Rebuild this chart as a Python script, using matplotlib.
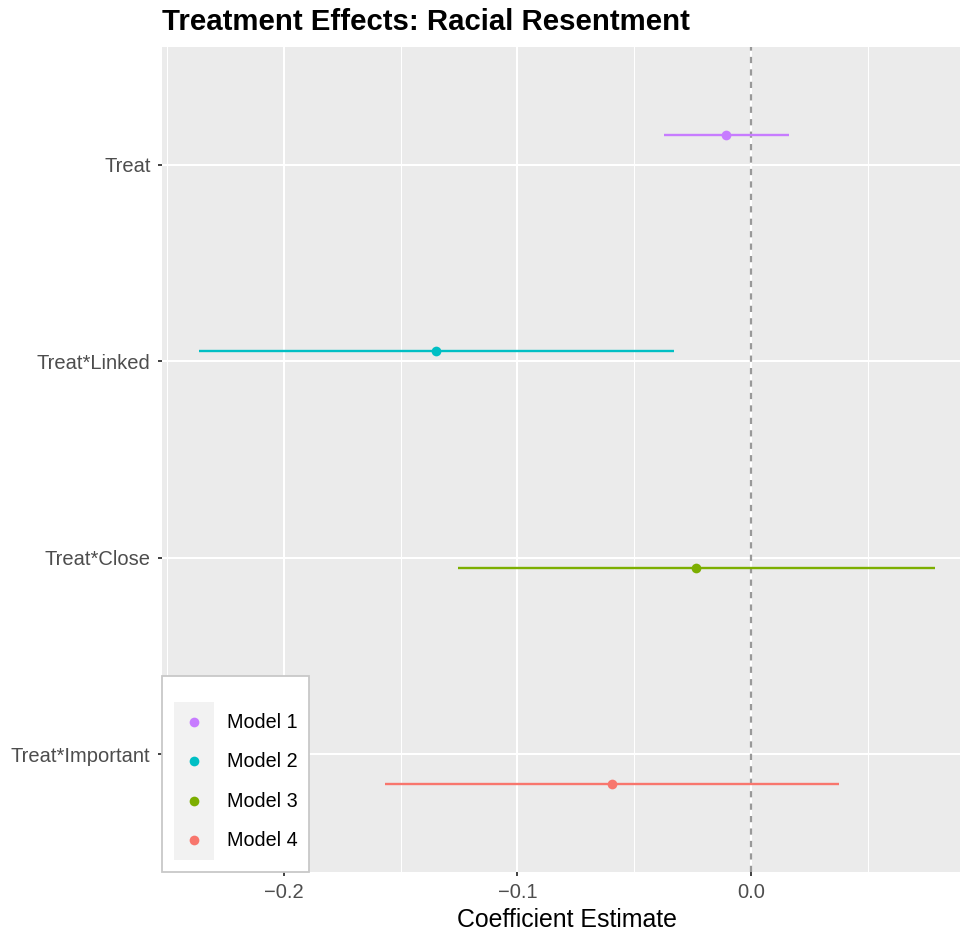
import matplotlib
matplotlib.use("Agg")
import matplotlib.pyplot as plt
from matplotlib.legend_handler import HandlerBase
from matplotlib.lines import Line2D
from matplotlib.patches import Rectangle

plt.rcParams["font.family"] = ["Liberation Sans", "DejaVu Sans"]

# --- data -------------------------------------------------------------------
terms = ["Treat", "Treat*Linked", "Treat*Close", "Treat*Important"]
models = ["Model 1", "Model 2", "Model 3", "Model 4"]
estimate = [-0.0107, -0.1349, -0.0236, -0.0595]
lower = [-0.0373, -0.2364, -0.1255, -0.1567]
upper = [0.0163, -0.0330, 0.0788, 0.0377]
colors = ["#C77CFF", "#00BFC4", "#7CAE00", "#F8766D"]
x_ticks = [-0.2, -0.1, 0.0]
x_ticklabels = ["\u22120.2", "\u22120.1", "0.0"]
x_minor = [-0.25, -0.15, -0.05, 0.05]

BG = "#EBEBEB"
TXT = "#4D4D4D"

fig = plt.figure(figsize=(9.6, 9.32), dpi=100)
# panel runs a little past the right edge (the reference is cropped there)
ax = fig.add_axes([162 / 960, 1 - 872 / 932, (972 - 162) / 960, (872 - 47) / 932])
ax.set_facecolor(BG)
for s in ax.spines.values():
    s.set_visible(False)

# category positions (top to bottom) with a dodge offset per model
n = len(terms)
ypos = {t: n - i for i, t in enumerate(terms)}
dodge = [0.15, 0.05, -0.05, -0.15]

ax.axvline(0.0, color="#999999", linewidth=1.6, linestyle=(0, (2.8, 2.8)), zorder=2)

for i, t in enumerate(terms):
    y = ypos[t] + dodge[i]
    ax.hlines(y, lower[i], upper[i], color=colors[i], linewidth=1.7, zorder=3)
    ax.plot(estimate[i], y, "o", color=colors[i], markersize=7.0,
            markeredgewidth=0, zorder=4)

# --- axes -------------------------------------------------------------------
ax.set_xlim(-0.2522, 0.0946)
ax.set_ylim(0.4, 4.6)
ax.set_xticks(x_ticks)
ax.set_xticklabels(x_ticklabels)
ax.set_xticks(x_minor, minor=True)
ax.set_yticks([ypos[t] for t in terms])
ax.set_yticklabels(terms)
ax.tick_params(axis="both", which="major", length=3.2, width=1.3, color="#333333",
               labelcolor=TXT, labelsize=14.5)
ax.tick_params(axis="x", which="major", pad=5)
ax.tick_params(axis="y", which="major", pad=5)
ax.tick_params(axis="x", which="minor", length=0)
ax.grid(True, which="major", color="white", linewidth=1.5, zorder=0)
ax.grid(True, which="minor", axis="x", color="white", linewidth=0.75, zorder=0)
ax.set_axisbelow(True)
ax.set_xlabel("Coefficient Estimate", fontsize=17.9, color="black", labelpad=4)

fig.text(162 / 960, 1 - 30.5 / 932, "Treatment Effects: Racial Resentment",
         fontsize=21.2, fontweight="bold", ha="left", va="baseline")


# --- legend (grey key background like ggplot) -------------------------------
class KeyHandler(HandlerBase):
    def create_artists(self, legend, orig_handle, xdescent, ydescent,
                       width, height, fontsize, trans):
        bg = Rectangle((-xdescent, -ydescent), width, height,
                       facecolor="#F2F2F2", edgecolor="none", transform=trans)
        dot = Line2D([width / 2 - xdescent], [height / 2 - ydescent], marker="o",
                     color=orig_handle.get_color(), markersize=7.0,
                     markeredgewidth=0, linestyle="none", transform=trans)
        return [bg, dot]


handles = [Line2D([], [], color=c) for c in colors]
leg = ax.legend(handles, models, loc="lower left", bbox_to_anchor=(0, 0),
                borderaxespad=0, fontsize=14.2, frameon=True, fancybox=False,
                handler_map={Line2D: KeyHandler()}, handlelength=2.03,
                handleheight=2.70, labelspacing=0.0, handletextpad=0.64,
                borderpad=0.61, title=" ", title_fontsize=10.5)
leg.get_frame().set_edgecolor("#C8C8C8")
leg.get_frame().set_linewidth(1.3)
leg.get_frame().set_facecolor("white")
leg.get_frame().set_alpha(None)
for txt in leg.get_texts():
    txt.set_color("black")

fig.savefig("out.png", dpi=100)
